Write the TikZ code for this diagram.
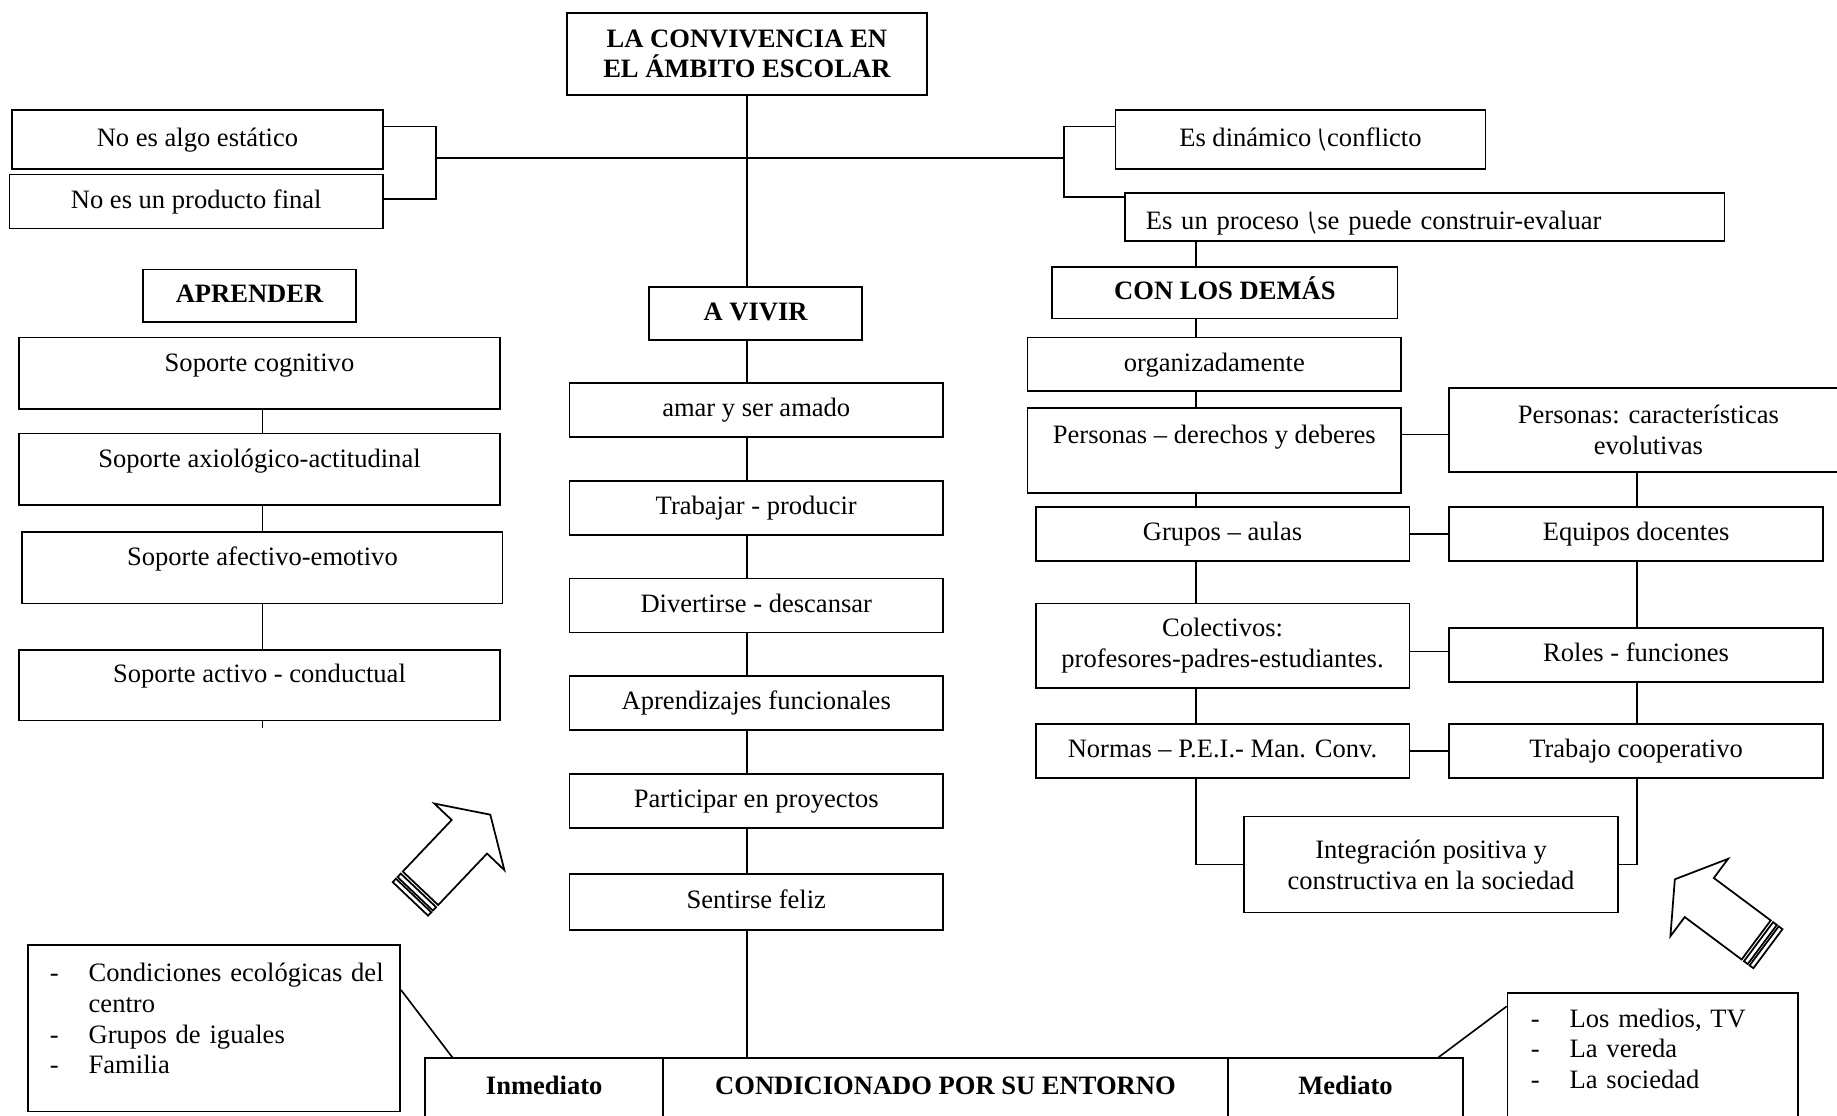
\documentclass[tikz,border=0pt]{standalone}
\usepackage{fontspec}
\setmainfont{Liberation Serif}
\newfontfamily\simbolo{DejaVu Sans}
\usetikzlibrary{positioning}

\newcommand{\letra}{\fontsize{12.9}{15}\selectfont}
\newcommand{\guion}{\makebox[18.8pt][l]{-}}

\begin{document}
\begin{tikzpicture}[
    x=0.02cm, y=-0.02cm,
    every node/.style={font=\letra},
    box/.style={draw, line width=0.8pt, inner sep=0pt, align=center, text height=9.5pt, text depth=3pt, minimum width=6.38cm, minimum height=0.92cm},
    multibox/.style={draw, line width=0.8pt, inner sep=0pt, align=center, minimum width=6.38cm},
    negrita/.style={font=\letra\bfseries},
    soporte/.style={box, minimum width=8.22cm, minimum height=0pt, text height=16.5pt, text depth=18.2pt},
    entorno/.style={box, negrita, minimum height=0pt, text height=17.6pt, text depth=17.6pt},
    lista/.style={draw, line width=0.8pt, inner xsep=10.8pt, inner ysep=0pt, align=left, anchor=north west},
    linea/.style={line width=0.8pt},
    flecha/.style={line width=0.85pt, line join=miter}
]
\useasboundingbox (0,0) rectangle (1568,952);

% cabecera
\node[multibox, negrita, minimum width=6.14cm, minimum height=1.4cm] (titulo) at (637.5,46) {LA CONVIVENCIA EN\\EL ÁMBITO ESCOLAR};
\node[box, minimum width=6.34cm, minimum height=1cm] (estatico) at (168.5,119) {No es algo estático};
\node[box] (producto) at (167.5,172) {No es un producto final};
\node[box, minimum width=6.32cm, minimum height=1cm] (dinamico) at (1110,119) {Es dinámico {\simbolo\small ⎝}conflicto};
\node[box, minimum width=0pt, minimum height=0pt, inner xsep=0.36cm, text width=9.52cm, align=left, text height=17.4pt, text depth=5.8pt] (proceso) at (1216,185.3) {Es un proceso {\simbolo\small ⎝}se puede construir-evaluar};

\node[box, negrita, minimum width=3.64cm, minimum height=0.9cm] (aprender) at (213,252.5) {APRENDER};
\node[box, negrita, minimum width=3.64cm, minimum height=0.9cm] (vivir) at (645,267.5) {A VIVIR};
\node[box, negrita, minimum width=5.9cm, minimum height=0.88cm] (demas) at (1045.5,250) {CON LOS DEMÁS};

% aprender
\node[soporte] (cognitivo) at (221.5,318.5) {Soporte cognitivo};
\node[soporte] (axiologico) at (221.5,400.5) {Soporte axiológico-actitudinal};
\node[soporte, minimum width=8.2cm] (afectivo) at (224,484.5) {Soporte afectivo-emotivo};
\node[soporte, text height=15.9pt] (activo) at (221.5,585) {Soporte activo - conductual};

% a vivir
\node[box] (amar) at (645.5,350) {amar y ser amado};
\node[box, below=0.72cm of amar] (trabajar) {Trabajar - producir};
\node[box, below=0.72cm of trabajar] (divertirse) {Divertirse - descansar};
\node[box, below=0.72cm of divertirse] (aprendizajes) {Aprendizajes funcionales};
\node[box, below=0.72cm of aprendizajes] (participar) {Participar en proyectos};
\node[box, below=0.76cm of participar, minimum height=0.96cm] (feliz) {Sentirse feliz};

% con los demas
\node[box] (organiz) at (1036.5,311) {organizadamente};
\node[box, minimum height=0pt, text height=17.6pt, text depth=23.9pt] (derechos) at (1036.5,384.5) {Personas -- derechos y deberes};
\node[multibox, minimum width=6.8cm, minimum height=1.44cm] (caract) at (1407,367) {Personas: características\\evolutivas};
\node[box] (grupos) at (1043.5,456) {Grupos -- aulas};
\node[box] (equipos) at (1396.5,456) {Equipos docentes};
\node[multibox, minimum height=1.44cm] (colectivos) at (1043.5,551) {Colectivos:\\profesores-padres-estudiantes.};
\node[box] (roles) at (1396.5,559) {Roles - funciones};
\node[box] (normas) at (1043.5,641) {Normas -- P.E.I.- Man. Conv.};
\node[box] (cooperativo) at (1396.5,641) {Trabajo cooperativo};
\node[multibox, minimum height=1.64cm] (integracion) at (1221.5,738) {Integración positiva y\\constructiva en la sociedad};

% entorno
\node[entorno, minimum width=4.06cm] (inmediato) at (464.5,934) {Inmediato};
\node[entorno, minimum width=9.64cm] (condicionado) at (807,934) {CONDICIONADO POR SU ENTORNO};
\node[entorno, minimum width=4.02cm] (mediato) at (1148.5,934) {Mediato};
\node[lista, text width=5.6cm, text height=17.6pt, text depth=63.2pt] (inmediatolist) at (23,806) {\guion\mbox{Condiciones ecológicas del}\\\hspace*{18.8pt}centro\\\guion Grupos de iguales\\\guion Familia};
\node[lista, inner xsep=11.4pt, text width=4.16cm, text height=16.5pt, text depth=53.5pt] (mediatolist) at (1286,847) {\guion Los medios, TV\\\guion La vereda\\\guion La sociedad};

% conectores
\coordinate (llaveizq) at (372,135);
\coordinate (llaveder) at (908,135);
\coordinate (eje1) at (1021,0);
\coordinate (eje2) at (1397,0);
\coordinate (cola) at (224,621);
\draw[linea] (titulo.south) -- (titulo |- vivir.north);
\draw[linea] (llaveizq) -- (llaveder);
\draw[linea] (estatico.east |- 0,108) -| (llaveizq |- 0,170) -- (producto.east |- 0,170);
\draw[linea] (dinamico.west |- 0,108) -| (llaveder |- 0,168) -- (proceso.west |- 0,168);
\foreach \a/\b in {vivir/amar, amar/trabajar, trabajar/divertirse, divertirse/aprendizajes, aprendizajes/participar, participar/feliz, feliz/condicionado}
    \draw[linea] (\a.south -| titulo) -- (\b.north -| titulo);
\foreach \a/\b in {cognitivo/axiologico, axiologico/afectivo, afectivo/activo}
    \draw[linea] (\a.south -| afectivo) -- (\b.north -| afectivo);
\draw[linea] (activo.south -| cola) -- (cola);
\foreach \a/\b in {proceso/demas, demas/organiz, organiz/derechos, derechos/grupos, grupos/colectivos, colectivos/normas}
    \draw[linea] (\a.south -| eje1) -- (\b.north -| eje1);
\foreach \a/\b in {caract/equipos, equipos/roles, roles/cooperativo}
    \draw[linea] (\a.south -| eje2) -- (\b.north -| eje2);
\draw[linea] (normas.south -| eje1) |- (integracion.west);
\draw[linea] (cooperativo.south -| eje2) |- (integracion.east);
\draw[linea] (derechos.east |- 0,371) -- (caract.west |- 0,371);
\draw[linea] (grupos.east) -- (equipos.west);
\draw[linea] (colectivos.east |- 0,556) -- (roles.west |- 0,556);
\draw[linea] (normas.east) -- (cooperativo.west);
\draw[linea] (inmediatolist.east |- 0,845) -- (inmediato.north -| 386,0);
\draw[linea] (mediato.north -| 1228,0) -- (mediatolist.west |- 0,859);

% flechas
\foreach \x/\y/\ang in {358.9/758.2/46.5, 1499/802.3/143.3}{
  \begin{scope}[shift={(\x,\y)}, rotate=\ang, flecha]
    \draw (0,-20.8) -- (60.6,-20.8) -- (60.6,-41.2) -- (86.6,0) -- (60.6,41.2) -- (60.6,20.8) -- (0,20.8) -- cycle;
    \draw (-2.5,-20.8) rectangle (-6.5,20.8);
    \draw (-8.5,-20.8) rectangle (-12.5,20.8);
  \end{scope}
}
\end{tikzpicture}
\end{document}
